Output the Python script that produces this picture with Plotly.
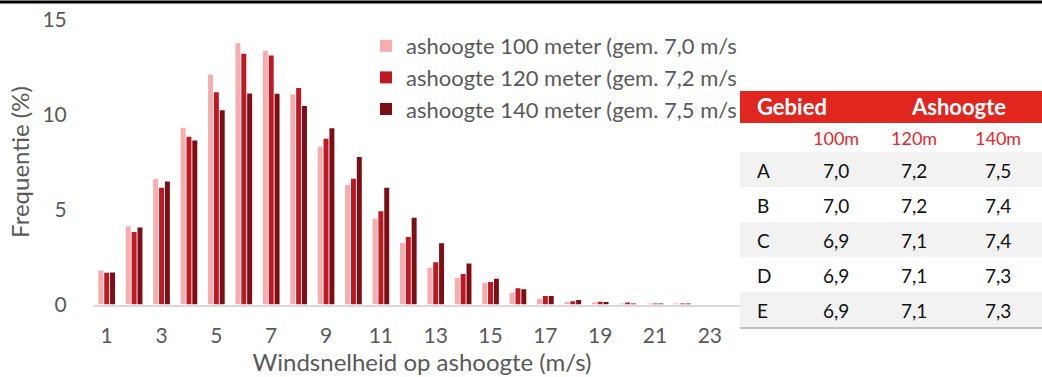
import plotly.graph_objects as go

# ---------------- data ----------------
speeds = list(range(1, 25))
freq_100 = [1.79, 4.12, 6.60, 9.30, 12.10, 13.75, 13.36, 11.06, 8.30, 6.29, 4.51, 3.24,
            1.93, 1.39, 1.14, 0.62, 0.29, 0.13, 0.10, 0.03, 0.02, 0.01, 0.0, 0.0]
freq_120 = [1.67, 3.81, 6.14, 8.83, 11.17, 13.20, 13.10, 11.39, 8.72, 6.62, 4.91, 3.55,
            2.23, 1.60, 1.19, 0.85, 0.45, 0.17, 0.15, 0.10, 0.03, 0.01, 0.0, 0.0]
freq_140 = [1.68, 4.05, 6.47, 8.63, 10.23, 11.10, 11.09, 10.45, 9.28, 7.76, 6.14, 4.57,
            3.22, 2.16, 1.35, 0.80, 0.45, 0.24, 0.13, 0.04, 0.02, 0.01, 0.0, 0.0]
series_names = ["ashoogte 100 meter (gem. 7,0 m/s",
                "ashoogte 120 meter (gem. 7,2 m/s",
                "ashoogte 140 meter (gem. 7,5 m/s"]
x_ticks = list(range(1, 24, 2))
y_ticks = [0, 5, 10, 15]

table_regions = ["A", "B", "C", "D", "E"]
table_heights = ["100m", "120m", "140m"]
mean_100 = ["7,0", "7,0", "6,9", "6,9", "6,9"]
mean_120 = ["7,2", "7,2", "7,1", "7,1", "7,1"]
mean_140 = ["7,5", "7,4", "7,4", "7,3", "7,3"]

# ---------------- style ----------------
W, H = 1042, 377
FONT = "Lato"
GRAY = "#595959"
colors = ["#F5ADB0", "#BE1923", "#7C0E15"]
HEADER_RED = "#E1251F"


def px(x):
    return x / W


def py(y):
    return 1 - y / H


fig = go.Figure()
for vals, name, col in zip([freq_100, freq_120, freq_140], series_names, colors):
    fig.add_trace(go.Bar(x=speeds, y=vals, name=name, marker_color=col,
                         marker_line_width=0))

shapes = []
annotations = []

# top black rule
shapes.append(dict(type="line", xref="paper", yref="paper", x0=0, x1=1,
                   y0=py(2), y1=py(2), line=dict(color="black", width=3), layer="above"))

# table
TX0, TX1 = 740, 1042
shapes.append(dict(type="rect", xref="paper", yref="paper", x0=px(TX0), x1=px(TX1),
                   y0=py(327), y1=py(123), fillcolor="white", line_width=0, layer="above"))
shapes.append(dict(type="rect", xref="paper", yref="paper", x0=px(TX0), x1=px(TX1),
                   y0=py(123), y1=py(91), fillcolor=HEADER_RED, line_width=0, layer="above"))
ROW0, ROWH = 152, 35
for i in range(len(table_regions)):
    if i % 2 == 0:
        shapes.append(dict(type="rect", xref="paper", yref="paper", x0=px(TX0), x1=px(TX1),
                           y0=py(ROW0 + ROWH * (i + 1)), y1=py(ROW0 + ROWH * i),
                           fillcolor="#F2F2F2", line_width=0, layer="above"))
shapes.append(dict(type="line", xref="paper", yref="paper", x0=px(TX0), x1=px(TX1),
                   y0=py(328), y1=py(328), line=dict(color="#BFBFBF", width=2), layer="above"))

annotations.append(dict(text="<b>Gebied</b>", x=px(755), y=py(107), xref="paper", yref="paper",
                        xanchor="left", yanchor="middle", showarrow=False,
                        font=dict(family=FONT, size=22, color="white")))
annotations.append(dict(text="<b>Ashoogte</b>", x=px(958), y=py(107), xref="paper", yref="paper",
                        xanchor="center", yanchor="middle", showarrow=False,
                        font=dict(family=FONT, size=22, color="white")))
col_x = [836, 914, 998]
for cx, h in zip(col_x, table_heights):
    annotations.append(dict(text=h, x=px(cx), y=py(138), xref="paper", yref="paper",
                            xanchor="center", yanchor="middle", showarrow=False,
                            font=dict(family=FONT, size=18, color="#E8262B")))
for i, reg in enumerate(table_regions):
    yc = py(ROW0 + ROWH * i + 18.5)
    annotations.append(dict(text=reg, x=px(755), y=yc, xref="paper", yref="paper",
                            xanchor="left", yanchor="middle", showarrow=False,
                            font=dict(family=FONT, size=19, color="#111111")))
    for cx, v in zip(col_x, [mean_100[i], mean_120[i], mean_140[i]]):
        annotations.append(dict(text=v, x=px(cx), y=yc, xref="paper", yref="paper",
                                xanchor="center", yanchor="middle", showarrow=False,
                                font=dict(family=FONT, size=19, color="#111111")))

fig.update_layout(
    width=W, height=H, autosize=False,
    margin=dict(l=0, r=0, t=0, b=0),
    paper_bgcolor="white", plot_bgcolor="white",
    font=dict(family=FONT, color=GRAY, size=22),
    barmode="group", bargap=0.36, bargroupgap=0.15,
    showlegend=True,
    legend=dict(x=px(366), y=py(25), xanchor="left", yanchor="top",
                bgcolor="rgba(0,0,0,0)", font=dict(family=FONT, size=22, color=GRAY),
                itemclick=False, tracegroupgap=0),
    xaxis=dict(domain=[px(93), px(751)], range=[0.5, 24.5], tickvals=x_ticks,
               automargin=False,
               showgrid=False, zeroline=False, showline=True, linecolor="#D9D9D9", linewidth=2,
               ticks="outside", ticklen=11, tickcolor="rgba(0,0,0,0)",
               tickfont=dict(family=FONT, size=21, color=GRAY),
               title=dict(text="Windsnelheid op ashoogte (m/s)", standoff=6,
                          font=dict(family=FONT, size=24, color=GRAY))),
    yaxis=dict(domain=[py(304.5), py(19.5)], range=[0, 15], tickvals=y_ticks,
               automargin=False,
               showgrid=False, zeroline=False, showline=False,
               ticks="outside", ticklen=21, tickcolor="rgba(0,0,0,0)",
               tickfont=dict(family=FONT, size=21, color=GRAY),
               title=dict(text="Frequentie (%)", standoff=6,
                          font=dict(family=FONT, size=24, color=GRAY))),
    shapes=shapes, annotations=annotations,
)

fig.write_html("out.html")
